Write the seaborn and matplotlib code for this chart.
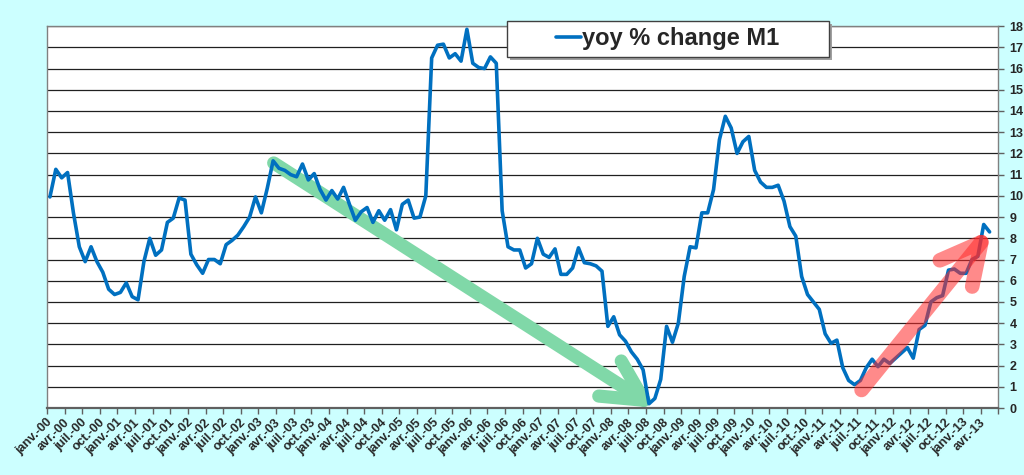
import numpy as np
import pandas as pd
import seaborn as sns
import matplotlib.pyplot as plt
from matplotlib.patches import Rectangle

# M1, variation sur un an (%), mensuel janv.-00 .. mai-13
m1_yoy = [
    9.95, 11.25, 10.85, 11.1, 9.2, 7.6, 6.9, 7.6, 6.9, 6.4, 5.6, 5.35,
    5.45, 5.9, 5.25, 5.1, 6.9, 8.0, 7.2, 7.45, 8.75, 8.95, 9.9, 9.8,
    7.25, 6.75, 6.35, 7.0, 7.0, 6.8, 7.7, 7.9, 8.15, 8.55, 9.0, 9.95,
    9.2, 10.35, 11.65, 11.3, 11.2, 11.0, 10.9, 11.5, 10.75, 11.05, 10.3, 9.8,
    10.25, 9.85, 10.4, 9.6, 8.85, 9.25, 9.45, 8.75, 9.3, 8.85, 9.35, 8.4,
    9.6, 9.8, 8.95, 9.0, 10.0, 16.5, 17.1, 17.15, 16.5, 16.7, 16.35, 17.85,
    16.25, 16.05, 16.0, 16.55, 16.25, 9.3, 7.6, 7.45, 7.45, 6.6, 6.8, 8.0,
    7.25, 7.1, 7.5, 6.3, 6.3, 6.6, 7.55, 6.85, 6.8, 6.7, 6.45, 3.85,
    4.3, 3.45, 3.15, 2.65, 2.3, 1.8, 0.2, 0.45, 1.35, 3.85, 3.1, 4.0,
    6.2, 7.6, 7.55, 9.2, 9.2, 10.3, 12.65, 13.75, 13.2, 12.0, 12.55, 12.8,
    11.2, 10.65, 10.4, 10.4, 10.5, 9.75, 8.55, 8.1, 6.2, 5.35, 5.0, 4.65,
    3.5, 3.05, 3.2, 1.9, 1.3, 1.1, 1.3, 1.9, 2.3, 1.95, 2.3, 2.1,
    2.35, 2.6, 2.85, 2.35, 3.7, 3.9, 5.0, 5.2, 5.3, 6.5, 6.55, 6.35,
    6.35, 7.0, 7.15, 8.65, 8.3,
]
mois = ['janv.', 'avr.', 'juil.', 'oct.']
annees = list(range(2000, 2014))
etiquettes = [f'{m}-{a % 100:02d}' for a in annees for m in mois][:54]

# fleches de tendance (index du mois, valeur)
baisse_debut, baisse_fin = (38.1, 11.55), (103.2, 0.0)
hausse_debut, hausse_fin = (138.2, 0.85), (160.3, 8.4)

df = pd.DataFrame({'mois': np.arange(len(m1_yoy)), 'yoy': m1_yoy})

sns.set_style('white')
plt.rcParams['font.family'] = ['Liberation Sans', 'DejaVu Sans']

fig, ax = plt.subplots(figsize=(10.24, 4.75), dpi=100)
fig.patch.set_facecolor('#ccffff')
fig.subplots_adjust(left=0.0459, right=0.975, bottom=0.141, top=0.945)

sns.lineplot(data=df, x='mois', y='yoy', color='#0070c0', lw=2.6, ax=ax, zorder=3)

ax.set_xlim(-0.5, 161.5)
ax.set_ylim(0, 18)
ax.set_xlabel('')
ax.set_ylabel('')

ax.yaxis.tick_right()
ax.set_yticks(range(19))
ax.tick_params(axis='y', which='major', direction='out', length=4, width=1,
               color='#606060', pad=4, labelsize=9, right=True, left=False)
for t in ax.get_yticklabels():
    t.set_fontweight('bold')

ax.set_xticks(np.arange(0, 162, 3)[:54])
ax.set_xticklabels(etiquettes, rotation=45, ha='right', va='center',
                   rotation_mode='anchor', fontsize=9, fontweight='bold')
ax.set_xticks(np.arange(-0.5, 162, 3), minor=True)
ax.tick_params(axis='x', which='major', length=0, pad=9)
ax.tick_params(axis='x', which='minor', direction='out', length=4, width=1,
               color='#606060', bottom=True)

ax.grid(axis='y', color='#202020', lw=0.9)
ax.set_axisbelow(True)
for s in ['left', 'right', 'top']:
    ax.spines[s].set_color('#808080')
    ax.spines[s].set_linewidth(1)
ax.spines['bottom'].set_color('#606060')
ax.spines['bottom'].set_linewidth(1.6)

ax.annotate('', xy=baisse_fin, xytext=baisse_debut, zorder=2, annotation_clip=False,
            arrowprops=dict(arrowstyle='->,head_length=29,head_width=15',
                            mutation_scale=1, lw=9.5, color='#80d8a8',
                            shrinkA=0, shrinkB=0, capstyle='round',
                            joinstyle='round'))
ax.annotate('', xy=hausse_fin, xytext=hausse_debut, zorder=4, annotation_clip=False,
            arrowprops=dict(arrowstyle='->,head_length=29,head_width=15',
                            mutation_scale=1, lw=10.5, color='#ff2a2a', alpha=0.55,
                            shrinkA=0, shrinkB=0, capstyle='round',
                            joinstyle='round'))

# cadre de la legende avec ombre
fig.add_artist(Rectangle((0.498, 0.874), 0.3145, 0.0758, transform=fig.transFigure,
                         facecolor='#a0a0a0', edgecolor='none', zorder=4))
fig.add_artist(Rectangle((0.495, 0.88), 0.3145, 0.0758, transform=fig.transFigure,
                         facecolor='white', edgecolor='#404040', lw=1, zorder=5))
leg = fig.legend(handles=ax.lines[:1], labels=['yoy % change M1'], loc='center',
                 bbox_to_anchor=(0.652, 0.918), frameon=False,
                 prop={'weight': 'bold', 'size': 17}, handlelength=1.05,
                 handletextpad=0.05)
leg.set_zorder(6)

fig.savefig('out.png', dpi=100, facecolor=fig.get_facecolor())
